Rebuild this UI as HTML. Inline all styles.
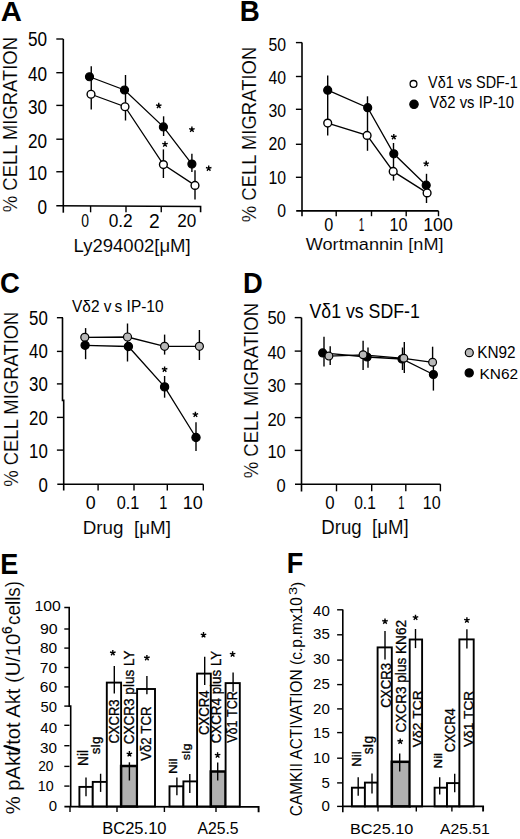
<!DOCTYPE html>
<html><head><meta charset="utf-8"><style>
html,body{margin:0;padding:0;background:#fff;width:520px;height:839px;overflow:hidden}
svg{display:block}
text{font-family:"Liberation Sans", sans-serif;fill:#000}
</style></head><body>
<svg width="520" height="839" viewBox="0 0 520 839">
<text transform="translate(0.67 20.8) scale(1.030 1)" font-size="28.41" font-weight="bold">A</text>
<text transform="translate(16.5 212.15) rotate(-90) scale(0.916 1)" font-size="20.14" stroke="#fff" stroke-width="0.15">% CELL MIGRATION</text>
<line x1="63.3" y1="39" x2="63.3" y2="212.7" stroke="#000" stroke-width="1.6"/>
<line x1="56.3" y1="171.75" x2="63.3" y2="171.75" stroke="#000" stroke-width="1.4"/>
<line x1="56.3" y1="139.2" x2="63.3" y2="139.2" stroke="#000" stroke-width="1.4"/>
<line x1="56.3" y1="105.4" x2="63.3" y2="105.4" stroke="#000" stroke-width="1.4"/>
<line x1="56.3" y1="72.7" x2="63.3" y2="72.7" stroke="#000" stroke-width="1.4"/>
<line x1="56.3" y1="39" x2="63.3" y2="39" stroke="#000" stroke-width="1.4"/>
<polyline points="56.3,205.75 200.6,206.5 200.6,212.3" fill="none" stroke="#000" stroke-width="1.6"/>
<line x1="90.6" y1="206" x2="90.6" y2="212.3" stroke="#000" stroke-width="1.4"/>
<line x1="126" y1="206" x2="126" y2="212.3" stroke="#000" stroke-width="1.4"/>
<line x1="161.25" y1="206" x2="161.25" y2="212.3" stroke="#000" stroke-width="1.4"/>
<text transform="translate(37.57 213.6) scale(0.870 1)" font-size="19.72">0</text>
<text transform="translate(28.04 179.8) scale(0.870 1)" font-size="19.72">10</text>
<text transform="translate(28.04 147.5) scale(0.870 1)" font-size="19.72">20</text>
<text transform="translate(28.04 113.7) scale(0.870 1)" font-size="19.72">30</text>
<text transform="translate(28.04 81.1) scale(0.870 1)" font-size="19.72">40</text>
<text transform="translate(28.04 46) scale(0.870 1)" font-size="19.72">50</text>
<text transform="translate(81.34 227.31) scale(0.731 1)" font-size="19.01">0</text>
<text transform="translate(108.71 227.31) scale(0.910 1)" font-size="19.01">0.2</text>
<text transform="translate(149.04 227.5)" font-size="19.29">2</text>
<text transform="translate(177.24 227.31) scale(0.902 1)" font-size="19.01">20</text>
<text transform="translate(73.52 252.38) scale(1.005 1)" font-size="18.45" stroke="#fff" stroke-width="0.08">Ly294002[μM]</text>
<line x1="91.25" y1="66.25" x2="91.25" y2="109.5" stroke="#000" stroke-width="1.4"/>
<line x1="125.5" y1="75" x2="125.5" y2="120.5" stroke="#000" stroke-width="1.4"/>
<line x1="163.6" y1="116.3" x2="163.6" y2="136" stroke="#000" stroke-width="1.4"/>
<line x1="163.4" y1="149.4" x2="163.4" y2="178" stroke="#000" stroke-width="1.4"/>
<line x1="191.9" y1="153.7" x2="191.9" y2="172" stroke="#000" stroke-width="1.4"/>
<line x1="195" y1="170.2" x2="195" y2="199.6" stroke="#000" stroke-width="1.4"/>
<polyline points="89.5,76.75 124.5,90 163.4,126.9 191.9,164.1" fill="none" stroke="#000" stroke-width="1.3"/>
<polyline points="91,94.25 125,106.75 163.4,164.6 195,185.4" fill="none" stroke="#000" stroke-width="1.3"/>
<circle cx="89.5" cy="76.75" r="4" fill="#000" stroke="#000" stroke-width="1.2"/>
<circle cx="124.5" cy="90" r="4" fill="#000" stroke="#000" stroke-width="1.2"/>
<circle cx="163.4" cy="126.9" r="4" fill="#000" stroke="#000" stroke-width="1.2"/>
<circle cx="191.9" cy="164.1" r="4" fill="#000" stroke="#000" stroke-width="1.2"/>
<circle cx="91" cy="94.25" r="3.9" fill="#fff" stroke="#000" stroke-width="1.4"/>
<circle cx="125" cy="106.75" r="3.9" fill="#fff" stroke="#000" stroke-width="1.4"/>
<circle cx="163.4" cy="164.6" r="3.9" fill="#fff" stroke="#000" stroke-width="1.4"/>
<circle cx="195" cy="185.4" r="3.9" fill="#fff" stroke="#000" stroke-width="1.4"/>
<path d="M158.75 105.75L158.75 102.85M158.75 105.75L161.51 104.85M158.75 105.75L160.45 108.1M158.75 105.75L157.05 108.1M158.75 105.75L155.99 104.85" stroke="#000" stroke-width="1.4" stroke-linecap="butt" fill="none"/>
<path d="M165 144.2L165 141.3M165 144.2L167.76 143.3M165 144.2L166.7 146.55M165 144.2L163.3 146.55M165 144.2L162.24 143.3" stroke="#000" stroke-width="1.4" stroke-linecap="butt" fill="none"/>
<path d="M191.9 129.5L191.9 126.6M191.9 129.5L194.66 128.6M191.9 129.5L193.6 131.85M191.9 129.5L190.2 131.85M191.9 129.5L189.14 128.6" stroke="#000" stroke-width="1.4" stroke-linecap="butt" fill="none"/>
<path d="M208.7 168.4L208.7 165.5M208.7 168.4L211.46 167.5M208.7 168.4L210.4 170.75M208.7 168.4L207 170.75M208.7 168.4L205.94 167.5" stroke="#000" stroke-width="1.4" stroke-linecap="butt" fill="none"/>
<text transform="translate(239.8 20.9) scale(0.961 1)" font-size="28.84" font-weight="bold">B</text>
<text transform="translate(255.6 222.25) rotate(-90) scale(0.924 1)" font-size="20.00" stroke="#fff" stroke-width="0.15">% CELL MIGRATION</text>
<line x1="302" y1="42.6" x2="302" y2="216.2" stroke="#000" stroke-width="1.6"/>
<line x1="295.9" y1="177.3" x2="302" y2="177.3" stroke="#000" stroke-width="1.4"/>
<line x1="295.9" y1="144.3" x2="302" y2="144.3" stroke="#000" stroke-width="1.4"/>
<line x1="295.9" y1="109.3" x2="302" y2="109.3" stroke="#000" stroke-width="1.4"/>
<line x1="295.9" y1="76.5" x2="302" y2="76.5" stroke="#000" stroke-width="1.4"/>
<line x1="295.9" y1="42.6" x2="302" y2="42.6" stroke="#000" stroke-width="1.4"/>
<line x1="296.2" y1="210.9" x2="438.5" y2="210.9" stroke="#000" stroke-width="1.6"/>
<line x1="336.2" y1="210.9" x2="336.2" y2="216.2" stroke="#000" stroke-width="1.4"/>
<line x1="371.5" y1="210.9" x2="371.5" y2="216.2" stroke="#000" stroke-width="1.4"/>
<line x1="406.2" y1="210.9" x2="406.2" y2="216.2" stroke="#000" stroke-width="1.4"/>
<line x1="438.5" y1="210.9" x2="438.5" y2="216.2" stroke="#000" stroke-width="1.4"/>
<text transform="translate(277.26 217.07) scale(0.870 1)" font-size="18.17">0</text>
<text transform="translate(268.49 183.57) scale(0.870 1)" font-size="18.17">10</text>
<text transform="translate(268.49 150.47) scale(0.870 1)" font-size="18.17">20</text>
<text transform="translate(268.49 116.97) scale(0.870 1)" font-size="18.17">30</text>
<text transform="translate(268.49 84.47) scale(0.870 1)" font-size="18.17">40</text>
<text transform="translate(268.49 50.57) scale(0.870 1)" font-size="18.17">50</text>
<text transform="translate(324.35 230.92) scale(0.892 1)" font-size="18.17">0</text>
<text transform="translate(358.85 231.1) scale(0.535 1)" font-size="18.70">1</text>
<text transform="translate(389.59 230.92) scale(0.891 1)" font-size="18.17">10</text>
<text transform="translate(423.27 230.92) scale(0.973 1)" font-size="18.17">100</text>
<text transform="translate(305.71 250.18) scale(1.054 1)" font-size="17.22" stroke="#fff" stroke-width="0.08">Wortmannin [nM]</text>
<line x1="327.7" y1="75.4" x2="327.7" y2="135.4" stroke="#000" stroke-width="1.4"/>
<line x1="367.5" y1="96.3" x2="367.5" y2="150.8" stroke="#000" stroke-width="1.4"/>
<line x1="393.5" y1="143" x2="393.5" y2="180.6" stroke="#000" stroke-width="1.4"/>
<line x1="426.5" y1="173.8" x2="426.5" y2="203" stroke="#000" stroke-width="1.4"/>
<polyline points="327.7,90.2 367.7,107.7 393.8,153.8 426.2,185.2" fill="none" stroke="#000" stroke-width="1.3"/>
<polyline points="327.7,123.1 367.1,135.4 393.2,171.4 427.1,192.9" fill="none" stroke="#000" stroke-width="1.3"/>
<circle cx="327.7" cy="90.2" r="4" fill="#000" stroke="#000" stroke-width="1.2"/>
<circle cx="367.7" cy="107.7" r="4" fill="#000" stroke="#000" stroke-width="1.2"/>
<circle cx="393.8" cy="153.8" r="4" fill="#000" stroke="#000" stroke-width="1.2"/>
<circle cx="426.2" cy="185.2" r="4" fill="#000" stroke="#000" stroke-width="1.2"/>
<circle cx="327.7" cy="123.1" r="3.9" fill="#fff" stroke="#000" stroke-width="1.4"/>
<circle cx="367.1" cy="135.4" r="3.9" fill="#fff" stroke="#000" stroke-width="1.4"/>
<circle cx="393.2" cy="171.4" r="3.9" fill="#fff" stroke="#000" stroke-width="1.4"/>
<circle cx="427.1" cy="192.9" r="3.9" fill="#fff" stroke="#000" stroke-width="1.4"/>
<path d="M393.8 136.9L393.8 134M393.8 136.9L396.56 136M393.8 136.9L395.5 139.25M393.8 136.9L392.1 139.25M393.8 136.9L391.04 136" stroke="#000" stroke-width="1.4" stroke-linecap="butt" fill="none"/>
<path d="M426.2 163.7L426.2 160.8M426.2 163.7L428.96 162.8M426.2 163.7L427.9 166.05M426.2 163.7L424.5 166.05M426.2 163.7L423.44 162.8" stroke="#000" stroke-width="1.4" stroke-linecap="butt" fill="none"/>
<circle cx="413.5" cy="83.9" r="3.4" fill="#fff" stroke="#000" stroke-width="1.3"/>
<circle cx="414" cy="104.3" r="4.2" fill="#000" stroke="#000" stroke-width="1.2"/>
<text transform="translate(428.03 88.1) scale(0.910 1)" font-size="15.84">Vδ1 vs SDF-1</text>
<text transform="translate(429.13 108.3) scale(0.938 1)" font-size="15.84">Vδ2 vs IP-10</text>
<text transform="translate(-0.1 293.1) scale(0.912 1)" font-size="30.14" font-weight="bold">C</text>
<text transform="translate(17.71 486.75) rotate(-90) scale(0.949 1)" font-size="19.44" stroke="#fff" stroke-width="0.15">% CELL MIGRATION</text>
<text transform="translate(72.02 311.6) scale(0.917 1)" font-size="16.86">Vδ2 v s IP-10</text>
<polyline points="62.5,317.7 62.5,400.4 63.7,400.4 63.7,490.4" fill="none" stroke="#000" stroke-width="1.6"/>
<line x1="56.9" y1="450.1" x2="63" y2="450.1" stroke="#000" stroke-width="1.4"/>
<line x1="56.9" y1="417.4" x2="63" y2="417.4" stroke="#000" stroke-width="1.4"/>
<line x1="56.9" y1="383.9" x2="63" y2="383.9" stroke="#000" stroke-width="1.4"/>
<line x1="56.9" y1="351.4" x2="63" y2="351.4" stroke="#000" stroke-width="1.4"/>
<line x1="56.9" y1="317.7" x2="63" y2="317.7" stroke="#000" stroke-width="1.4"/>
<line x1="57.3" y1="484.2" x2="203.3" y2="484.2" stroke="#000" stroke-width="1.6"/>
<line x1="98.1" y1="484.2" x2="98.1" y2="490.4" stroke="#000" stroke-width="1.4"/>
<line x1="134" y1="484.2" x2="134" y2="490.4" stroke="#000" stroke-width="1.4"/>
<line x1="167.3" y1="484.2" x2="167.3" y2="490.4" stroke="#000" stroke-width="1.4"/>
<line x1="203.3" y1="484.2" x2="203.3" y2="490.4" stroke="#000" stroke-width="1.4"/>
<text transform="translate(38.43 492.35) scale(0.860 1)" font-size="19.58">0</text>
<text transform="translate(29.08 457.75) scale(0.860 1)" font-size="19.58">10</text>
<text transform="translate(29.08 424.75) scale(0.860 1)" font-size="19.58">20</text>
<text transform="translate(29.08 391.15) scale(0.860 1)" font-size="19.58">30</text>
<text transform="translate(29.08 358.15) scale(0.860 1)" font-size="19.58">40</text>
<text transform="translate(29.08 324.65) scale(0.860 1)" font-size="19.58">50</text>
<text transform="translate(85.78 508.82) scale(0.993 1)" font-size="18.03">0</text>
<text transform="translate(116.65 508.82) scale(0.905 1)" font-size="18.03">0.1</text>
<text transform="translate(159.3 509) scale(0.790 1)" font-size="18.55">1</text>
<text transform="translate(182.65 508.82)" font-size="18.03">10</text>
<text transform="translate(82.69 534.08) scale(0.984 1)" font-size="19.14" stroke="#fff" stroke-width="0.08">Drug&#160;&#160;[μM]</text>
<line x1="85.6" y1="328.1" x2="85.6" y2="359.2" stroke="#000" stroke-width="1.4"/>
<line x1="127.5" y1="323.5" x2="127.5" y2="361.5" stroke="#000" stroke-width="1.4"/>
<line x1="164.6" y1="334.6" x2="164.6" y2="354.6" stroke="#000" stroke-width="1.4"/>
<line x1="199.4" y1="330" x2="199.4" y2="360" stroke="#000" stroke-width="1.4"/>
<line x1="164.6" y1="376" x2="164.6" y2="397.7" stroke="#000" stroke-width="1.4"/>
<line x1="196" y1="422.3" x2="196" y2="451.1" stroke="#000" stroke-width="1.4"/>
<polyline points="84.8,337.3 127.5,337 164.6,346.3 199.4,346.3" fill="none" stroke="#000" stroke-width="1.3"/>
<polyline points="85.1,345.3 128.4,346.5 164.6,386.9 196,437.5" fill="none" stroke="#000" stroke-width="1.3"/>
<circle cx="84.8" cy="337.3" r="4" fill="#b8b8b8" stroke="#000" stroke-width="1.2"/>
<circle cx="127.5" cy="337" r="4" fill="#b8b8b8" stroke="#000" stroke-width="1.2"/>
<circle cx="164.6" cy="346.3" r="4" fill="#b8b8b8" stroke="#000" stroke-width="1.2"/>
<circle cx="199.4" cy="346.3" r="4" fill="#b8b8b8" stroke="#000" stroke-width="1.2"/>
<circle cx="85.1" cy="345.3" r="4.1" fill="#000" stroke="#000" stroke-width="1.2"/>
<circle cx="128.4" cy="346.5" r="4.1" fill="#000" stroke="#000" stroke-width="1.2"/>
<circle cx="164.6" cy="386.9" r="4.1" fill="#000" stroke="#000" stroke-width="1.2"/>
<circle cx="196" cy="437.5" r="4.1" fill="#000" stroke="#000" stroke-width="1.2"/>
<path d="M164.6 369.4L164.6 366.5M164.6 369.4L167.36 368.5M164.6 369.4L166.3 371.75M164.6 369.4L162.9 371.75M164.6 369.4L161.84 368.5" stroke="#000" stroke-width="1.4" stroke-linecap="butt" fill="none"/>
<path d="M195.4 414.6L195.4 411.7M195.4 414.6L198.16 413.7M195.4 414.6L197.1 416.95M195.4 414.6L193.7 416.95M195.4 414.6L192.64 413.7" stroke="#000" stroke-width="1.4" stroke-linecap="butt" fill="none"/>
<text transform="translate(243.12 293.4) scale(0.929 1)" font-size="29.42" font-weight="bold">D</text>
<text transform="translate(258.4 478.15) rotate(-90) scale(0.916 1)" font-size="20.14" stroke="#fff" stroke-width="0.15">% CELL MIGRATION</text>
<text transform="translate(309.51 317.6) scale(0.917 1)" font-size="19.33">Vδ1 vs SDF-1</text>
<line x1="301.5" y1="317.6" x2="301.5" y2="491.5" stroke="#000" stroke-width="1.6"/>
<line x1="294.7" y1="450.4" x2="301.5" y2="450.4" stroke="#000" stroke-width="1.4"/>
<line x1="294.7" y1="417.6" x2="301.5" y2="417.6" stroke="#000" stroke-width="1.4"/>
<line x1="294.7" y1="383.9" x2="301.5" y2="383.9" stroke="#000" stroke-width="1.4"/>
<line x1="294.7" y1="351.1" x2="301.5" y2="351.1" stroke="#000" stroke-width="1.4"/>
<line x1="294.7" y1="317.6" x2="301.5" y2="317.6" stroke="#000" stroke-width="1.4"/>
<line x1="295" y1="484.2" x2="440.4" y2="484.2" stroke="#000" stroke-width="1.6"/>
<line x1="336.5" y1="484.2" x2="336.5" y2="491.3" stroke="#000" stroke-width="1.4"/>
<line x1="371.7" y1="484.2" x2="371.7" y2="491.3" stroke="#000" stroke-width="1.4"/>
<line x1="405.8" y1="484.2" x2="405.8" y2="491.3" stroke="#000" stroke-width="1.4"/>
<line x1="440.4" y1="484.2" x2="440.4" y2="491.3" stroke="#000" stroke-width="1.4"/>
<text transform="translate(276.58 492.16) scale(0.870 1)" font-size="19.01">0</text>
<text transform="translate(267.4 458.26) scale(0.870 1)" font-size="19.01">10</text>
<text transform="translate(267.4 425.66) scale(0.870 1)" font-size="19.01">20</text>
<text transform="translate(267.4 391.96) scale(0.870 1)" font-size="19.01">30</text>
<text transform="translate(267.4 359.06) scale(0.870 1)" font-size="19.01">40</text>
<text transform="translate(267.4 324.26) scale(0.870 1)" font-size="19.01">50</text>
<text transform="translate(325.13 509.03) scale(0.964 1)" font-size="17.46">0</text>
<text transform="translate(354.18 509.03) scale(0.890 1)" font-size="17.46">0.1</text>
<text transform="translate(398.16 509.2) scale(0.621 1)" font-size="17.97">1</text>
<text transform="translate(422.79 509.03) scale(0.921 1)" font-size="17.46">10</text>
<text transform="translate(321.21 533.92) scale(0.938 1)" font-size="19.89" stroke="#fff" stroke-width="0.08">Drug&#160;&#160;[μM]</text>
<line x1="324" y1="336.7" x2="324" y2="366.4" stroke="#000" stroke-width="1.4"/>
<line x1="330.2" y1="346.2" x2="330.2" y2="365" stroke="#000" stroke-width="1.4"/>
<line x1="363.1" y1="340.8" x2="363.1" y2="369.9" stroke="#000" stroke-width="1.4"/>
<line x1="368" y1="347.5" x2="368" y2="367.7" stroke="#000" stroke-width="1.4"/>
<line x1="404.3" y1="342.1" x2="404.3" y2="373.1" stroke="#000" stroke-width="1.4"/>
<line x1="402.5" y1="347.5" x2="402.5" y2="370" stroke="#000" stroke-width="1.4"/>
<line x1="432.6" y1="346.7" x2="432.6" y2="365" stroke="#000" stroke-width="1.4"/>
<line x1="433.4" y1="362" x2="433.4" y2="390.6" stroke="#000" stroke-width="1.4"/>
<polyline points="328.9,356.1 363.1,354.8 403.8,358.3 432.6,362.3" fill="none" stroke="#000" stroke-width="1.3"/>
<polyline points="322.7,352.9 367.1,357 402,359 433.4,374.5" fill="none" stroke="#000" stroke-width="1.3"/>
<circle cx="322.7" cy="352.9" r="4" fill="#000" stroke="#000" stroke-width="1.2"/>
<circle cx="367.1" cy="357" r="4" fill="#000" stroke="#000" stroke-width="1.2"/>
<circle cx="402" cy="359" r="4" fill="#000" stroke="#000" stroke-width="1.2"/>
<circle cx="433.4" cy="374.5" r="4" fill="#000" stroke="#000" stroke-width="1.2"/>
<circle cx="328.9" cy="356.1" r="3.9" fill="#b8b8b8" stroke="#000" stroke-width="1.2"/>
<circle cx="363.1" cy="354.8" r="3.9" fill="#b8b8b8" stroke="#000" stroke-width="1.2"/>
<circle cx="403.8" cy="358.3" r="3.9" fill="#b8b8b8" stroke="#000" stroke-width="1.2"/>
<circle cx="432.6" cy="362.3" r="3.9" fill="#b8b8b8" stroke="#000" stroke-width="1.2"/>
<circle cx="469.3" cy="352.7" r="4" fill="#b8b8b8" stroke="#000" stroke-width="1.2"/>
<circle cx="469.2" cy="372.9" r="4.1" fill="#000" stroke="#000" stroke-width="1.2"/>
<text transform="translate(477.27 357.74) scale(0.962 1)" font-size="15.92">KN92</text>
<text transform="translate(479.56 379.05) scale(1.006 1)" font-size="15.35">KN62</text>
<text transform="translate(0.24 573.7) scale(0.911 1)" font-size="29.71" font-weight="bold">E</text>
<polyline points="64.3,607.5 69.2,607.5 69.2,706.1 70.7,706.1 70.7,807" fill="none" stroke="#000" stroke-width="1.6"/>
<line x1="64.3" y1="786.1" x2="69.5" y2="786.1" stroke="#000" stroke-width="1.4"/>
<line x1="64.3" y1="766.4" x2="69.5" y2="766.4" stroke="#000" stroke-width="1.4"/>
<line x1="64.3" y1="745.7" x2="69.5" y2="745.7" stroke="#000" stroke-width="1.4"/>
<line x1="64.3" y1="725.3" x2="69.5" y2="725.3" stroke="#000" stroke-width="1.4"/>
<line x1="64.3" y1="706.1" x2="69.5" y2="706.1" stroke="#000" stroke-width="1.4"/>
<line x1="64.3" y1="686.9" x2="69.5" y2="686.9" stroke="#000" stroke-width="1.4"/>
<line x1="64.3" y1="667.5" x2="69.5" y2="667.5" stroke="#000" stroke-width="1.4"/>
<line x1="64.3" y1="648.1" x2="69.5" y2="648.1" stroke="#000" stroke-width="1.4"/>
<line x1="64.3" y1="629" x2="69.5" y2="629" stroke="#000" stroke-width="1.4"/>
<text transform="translate(48.7 810.7) scale(1.030 1)" font-size="14.51">0</text>
<text transform="translate(37.83 790.6) scale(0.984 1)" font-size="14.51">10</text>
<text transform="translate(38.21 771.4) scale(0.946 1)" font-size="14.51">20</text>
<text transform="translate(40.09 752.6) scale(1.051 1)" font-size="14.51">30</text>
<text transform="translate(40.32 732.6) scale(1.036 1)" font-size="14.51">40</text>
<text transform="translate(40.51 712.3) scale(1.024 1)" font-size="14.51">50</text>
<text transform="translate(39.82 692.2) scale(1.075 1)" font-size="14.51">60</text>
<text transform="translate(39.82 672.8) scale(1.075 1)" font-size="14.51">70</text>
<text transform="translate(39.9 653.1) scale(1.069 1)" font-size="14.51">80</text>
<text transform="translate(39.88 634) scale(1.096 1)" font-size="14.51">90</text>
<text transform="translate(34.42 611.25) scale(1.085 1)" font-size="14.51">100</text>
<rect x="79.4" y="786.9" width="13.35" height="19.6" fill="#fff" stroke="#000" stroke-width="1.9"/>
<rect x="92.75" y="781.9" width="14.15" height="24.6" fill="#fff" stroke="#000" stroke-width="1.9"/>
<rect x="106.8" y="682.6" width="14.3" height="123.9" fill="#fff" stroke="#000" stroke-width="1.9"/>
<rect x="121.1" y="766" width="16" height="40.5" fill="#b0b0b0" stroke="#000" stroke-width="2.5"/>
<rect x="137.1" y="689" width="17.9" height="117.5" fill="#fff" stroke="#000" stroke-width="1.9"/>
<rect x="169.5" y="786.3" width="13.9" height="20.2" fill="#fff" stroke="#000" stroke-width="1.9"/>
<rect x="183.4" y="781.4" width="13.7" height="25.1" fill="#fff" stroke="#000" stroke-width="1.9"/>
<rect x="197.1" y="673.6" width="13.7" height="132.9" fill="#fff" stroke="#000" stroke-width="1.9"/>
<rect x="210.8" y="771.5" width="14.8" height="35" fill="#b0b0b0" stroke="#000" stroke-width="2.5"/>
<rect x="225.6" y="683.1" width="14.2" height="123.4" fill="#fff" stroke="#000" stroke-width="1.9"/>
<polyline points="64.4,806.6 258.6,806.9 258.6,812.3" fill="none" stroke="#000" stroke-width="1.9"/>
<line x1="70" y1="806.5" x2="70" y2="812" stroke="#000" stroke-width="1.4"/>
<line x1="117" y1="806.5" x2="117" y2="812" stroke="#000" stroke-width="1.4"/>
<line x1="164.4" y1="806.5" x2="164.4" y2="812" stroke="#000" stroke-width="1.4"/>
<line x1="216" y1="806.5" x2="216" y2="812" stroke="#000" stroke-width="1.4"/>
<line x1="86" y1="777.5" x2="86" y2="796.25" stroke="#000" stroke-width="1.4"/>
<line x1="100.6" y1="773.75" x2="100.6" y2="791.9" stroke="#000" stroke-width="1.4"/>
<line x1="114.3" y1="666" x2="114.3" y2="693.6" stroke="#000" stroke-width="1.4"/>
<line x1="129.4" y1="762.3" x2="129.4" y2="780.5" stroke="#000" stroke-width="1.4"/>
<line x1="146.9" y1="676" x2="146.9" y2="694.3" stroke="#000" stroke-width="1.4"/>
<line x1="176.9" y1="777.6" x2="176.9" y2="795.2" stroke="#000" stroke-width="1.4"/>
<line x1="189.8" y1="774" x2="189.8" y2="793" stroke="#000" stroke-width="1.4"/>
<line x1="204.7" y1="656.7" x2="204.7" y2="685.1" stroke="#000" stroke-width="1.4"/>
<line x1="217.7" y1="762.4" x2="217.7" y2="780.4" stroke="#000" stroke-width="1.4"/>
<line x1="233.1" y1="672.6" x2="233.1" y2="691.8" stroke="#000" stroke-width="1.4"/>
<path d="M112.8 652.9L112.8 650M112.8 652.9L115.56 652M112.8 652.9L114.5 655.25M112.8 652.9L111.1 655.25M112.8 652.9L110.04 652" stroke="#000" stroke-width="1.4" stroke-linecap="butt" fill="none"/>
<path d="M129.4 754L129.4 751.1M129.4 754L132.16 753.1M129.4 754L131.1 756.35M129.4 754L127.7 756.35M129.4 754L126.64 753.1" stroke="#000" stroke-width="1.4" stroke-linecap="butt" fill="none"/>
<path d="M146.9 657.9L146.9 655M146.9 657.9L149.66 657M146.9 657.9L148.6 660.25M146.9 657.9L145.2 660.25M146.9 657.9L144.14 657" stroke="#000" stroke-width="1.4" stroke-linecap="butt" fill="none"/>
<path d="M203.5 635L203.5 632.1M203.5 635L206.26 634.1M203.5 635L205.2 637.35M203.5 635L201.8 637.35M203.5 635L200.74 634.1" stroke="#000" stroke-width="1.4" stroke-linecap="butt" fill="none"/>
<path d="M217.6 755.2L217.6 752.3M217.6 755.2L220.36 754.3M217.6 755.2L219.3 757.55M217.6 755.2L215.9 757.55M217.6 755.2L214.84 754.3" stroke="#000" stroke-width="1.4" stroke-linecap="butt" fill="none"/>
<path d="M232.6 654.2L232.6 651.3M232.6 654.2L235.36 653.3M232.6 654.2L234.3 656.55M232.6 654.2L230.9 656.55M232.6 654.2L229.84 653.3" stroke="#000" stroke-width="1.4" stroke-linecap="butt" fill="none"/>
<text transform="translate(87.8 765.89) rotate(-90) scale(0.950 1)" font-size="14.34" stroke="#000" stroke-width="0.3">Nil</text>
<text transform="translate(99.78 754.3) rotate(-90) scale(0.990 1)" font-size="13.44" stroke="#000" stroke-width="0.3">sIg</text>
<text transform="translate(119.25 743.55) rotate(-90) scale(0.889 1)" font-size="14.65" stroke="#000" stroke-width="0.3">CXCR3</text>
<text transform="translate(134.01 744.28) rotate(-90) scale(0.953 1)" font-size="14.22" stroke="#000" stroke-width="0.3">CXCR3 plus LY</text>
<text transform="translate(150.76 760.87) rotate(-90) scale(0.944 1)" font-size="14.01" stroke="#000" stroke-width="0.3">Vδ2 TCR</text>
<text transform="translate(176.9 774.07) rotate(-90) scale(1.255 1)" font-size="10.62" stroke="#000" stroke-width="0.3">Nil</text>
<text transform="translate(190.45 760.28) rotate(-90) scale(1.231 1)" font-size="10.22" stroke="#000" stroke-width="0.3">sIg</text>
<text transform="translate(208.55 734.96) rotate(-90) scale(0.904 1)" font-size="14.51" stroke="#000" stroke-width="0.3">CXCR4</text>
<text transform="translate(221.21 743.37) rotate(-90) scale(0.941 1)" font-size="14.22" stroke="#000" stroke-width="0.3">CXCR4 plus LY</text>
<text transform="translate(237.45 742.76) rotate(-90) scale(0.853 1)" font-size="14.69" stroke="#000" stroke-width="0.3">Vδ1 TCR</text>
<text transform="translate(102.18 834.23) scale(0.996 1)" font-size="16.62">BC25.10</text>
<text transform="translate(197.42 834.44) scale(0.972 1)" font-size="16.20">A25.5</text>
<text transform="translate(286.64 573.4) scale(0.911 1)" font-size="29.71" font-weight="bold">F</text>
<line x1="342.8" y1="609.4" x2="342.8" y2="812.3" stroke="#000" stroke-width="1.6"/>
<line x1="337.1" y1="782.9" x2="342.8" y2="782.9" stroke="#000" stroke-width="1.4"/>
<line x1="337.1" y1="758.2" x2="342.8" y2="758.2" stroke="#000" stroke-width="1.4"/>
<line x1="337.1" y1="732.6" x2="342.8" y2="732.6" stroke="#000" stroke-width="1.4"/>
<line x1="337.1" y1="708.9" x2="342.8" y2="708.9" stroke="#000" stroke-width="1.4"/>
<line x1="337.1" y1="684.6" x2="342.8" y2="684.6" stroke="#000" stroke-width="1.4"/>
<line x1="337.1" y1="660.1" x2="342.8" y2="660.1" stroke="#000" stroke-width="1.4"/>
<line x1="337.1" y1="634.8" x2="342.8" y2="634.8" stroke="#000" stroke-width="1.4"/>
<line x1="337.1" y1="609.8" x2="342.8" y2="609.8" stroke="#000" stroke-width="1.4"/>
<line x1="337.1" y1="806.4" x2="342.8" y2="806.4" stroke="#000" stroke-width="1.4"/>
<text transform="translate(321.43 810.9) scale(1.020 1)" font-size="14.79">0</text>
<text transform="translate(321.43 787.53) scale(1.020 1)" font-size="14.79">5</text>
<text transform="translate(313.06 763.1) scale(1.020 1)" font-size="14.79">10</text>
<text transform="translate(313.06 737.93) scale(1.020 1)" font-size="14.79">15</text>
<text transform="translate(313.06 713.6) scale(1.020 1)" font-size="14.79">20</text>
<text transform="translate(313.06 689.4) scale(1.020 1)" font-size="14.79">25</text>
<text transform="translate(313.06 664) scale(1.020 1)" font-size="14.79">30</text>
<text transform="translate(313.06 639.1) scale(1.020 1)" font-size="14.79">35</text>
<text transform="translate(313.06 615.5) scale(1.020 1)" font-size="14.79">40</text>
<rect x="351.9" y="787.7" width="13" height="18.7" fill="#fff" stroke="#000" stroke-width="1.9"/>
<rect x="364.9" y="782.6" width="12.7" height="23.8" fill="#fff" stroke="#000" stroke-width="1.9"/>
<rect x="377.6" y="647.4" width="14.2" height="159" fill="#fff" stroke="#000" stroke-width="1.9"/>
<rect x="391.8" y="761.8" width="17.9" height="44.6" fill="#b0b0b0" stroke="#000" stroke-width="2.5"/>
<rect x="409.7" y="639.5" width="12.4" height="166.9" fill="#fff" stroke="#000" stroke-width="1.9"/>
<rect x="434.6" y="787.7" width="12.4" height="18.7" fill="#fff" stroke="#000" stroke-width="1.9"/>
<rect x="447" y="783.1" width="12.4" height="23.3" fill="#fff" stroke="#000" stroke-width="1.9"/>
<rect x="459.4" y="639.4" width="14.3" height="167" fill="#fff" stroke="#000" stroke-width="1.9"/>
<polyline points="342.8,806.4 483.1,806.4 483.1,811.5" fill="none" stroke="#000" stroke-width="1.9"/>
<line x1="378" y1="806.4" x2="378" y2="811.5" stroke="#000" stroke-width="1.4"/>
<line x1="416.3" y1="806.4" x2="416.3" y2="811.5" stroke="#000" stroke-width="1.4"/>
<line x1="451.9" y1="806.4" x2="451.9" y2="811.5" stroke="#000" stroke-width="1.4"/>
<line x1="358.2" y1="777.3" x2="358.2" y2="795.8" stroke="#000" stroke-width="1.4"/>
<line x1="372" y1="773.4" x2="372" y2="793.5" stroke="#000" stroke-width="1.4"/>
<line x1="385" y1="631" x2="385" y2="659.5" stroke="#000" stroke-width="1.4"/>
<line x1="399.7" y1="753.5" x2="399.7" y2="771.5" stroke="#000" stroke-width="1.4"/>
<line x1="415.5" y1="629" x2="415.5" y2="648.1" stroke="#000" stroke-width="1.4"/>
<line x1="439.7" y1="777.3" x2="439.7" y2="794.6" stroke="#000" stroke-width="1.4"/>
<line x1="454.7" y1="773.8" x2="454.7" y2="792.3" stroke="#000" stroke-width="1.4"/>
<line x1="466.9" y1="629.2" x2="466.9" y2="648.5" stroke="#000" stroke-width="1.4"/>
<path d="M385 621.4L385 618.5M385 621.4L387.76 620.5M385 621.4L386.7 623.75M385 621.4L383.3 623.75M385 621.4L382.24 620.5" stroke="#000" stroke-width="1.4" stroke-linecap="butt" fill="none"/>
<path d="M400.2 741.4L400.2 738.5M400.2 741.4L402.96 740.5M400.2 741.4L401.9 743.75M400.2 741.4L398.5 743.75M400.2 741.4L397.44 740.5" stroke="#000" stroke-width="1.4" stroke-linecap="butt" fill="none"/>
<path d="M415.5 617.6L415.5 614.7M415.5 617.6L418.26 616.7M415.5 617.6L417.2 619.95M415.5 617.6L413.8 619.95M415.5 617.6L412.74 616.7" stroke="#000" stroke-width="1.4" stroke-linecap="butt" fill="none"/>
<path d="M466.9 620.2L466.9 617.3M466.9 620.2L469.66 619.3M466.9 620.2L468.6 622.55M466.9 620.2L465.2 622.55M466.9 620.2L464.14 619.3" stroke="#000" stroke-width="1.4" stroke-linecap="butt" fill="none"/>
<text transform="translate(361.2 766.86) rotate(-90) scale(0.989 1)" font-size="13.38" stroke="#000" stroke-width="0.3">Nil</text>
<text transform="translate(373.46 754.21) rotate(-90) scale(0.974 1)" font-size="14.00" stroke="#000" stroke-width="0.3">sIg</text>
<text transform="translate(390.55 707.76) rotate(-90) scale(0.899 1)" font-size="14.79" stroke="#000" stroke-width="0.3">CXCR3</text>
<text transform="translate(405.97 732.58) rotate(-90) scale(0.943 1)" font-size="14.44" stroke="#000" stroke-width="0.3">CXCR3 plus KN62</text>
<text transform="translate(421.97 747.17) rotate(-90) scale(1.069 1)" font-size="12.93" stroke="#000" stroke-width="0.3">Vδ2 TCR</text>
<text transform="translate(442 768.47) rotate(-90) scale(1.289 1)" font-size="10.34" stroke="#000" stroke-width="0.3">Nil</text>
<text transform="translate(455.46 752.15) rotate(-90) scale(0.941 1)" font-size="13.80" stroke="#000" stroke-width="0.3">CXCR4</text>
<text transform="translate(472.87 747.07) rotate(-90) scale(1.058 1)" font-size="12.93" stroke="#000" stroke-width="0.3">Vδ1 TCR</text>
<text transform="translate(350 834.45) scale(1.051 1)" font-size="15.49">BC25.10</text>
<text transform="translate(440.02 834.45) scale(1.015 1)" font-size="15.49">A25.51</text>
<text transform="translate(20 814.31) rotate(-90) scale(0.956 1)" font-size="21.13" stroke="#fff" stroke-width="0.1">% pAkt/tot Akt (U/10</text>
<text transform="translate(20 625.05) rotate(-90) scale(0.896 1)" font-size="21.13" stroke="#fff" stroke-width="0.1">cells)</text>
<line x1="3.6" y1="745.9" x2="19.6" y2="751" stroke="#000" stroke-width="2.0"/>
<text transform="translate(11.96 634) rotate(-90) scale(1.008 1)" font-size="13.80" stroke="#000" stroke-width="0.15">6</text>
<text transform="translate(302.2 816.27) rotate(-90) scale(0.993 1)" font-size="15.57">CAMKII ACTIVATION (c.p.mx10</text>
<text transform="translate(297.39 595) rotate(-90) scale(1.305 1)" font-size="11.41">3</text>
<text transform="translate(301.76 586.95) rotate(-90) scale(1.027 1)" font-size="14.97">)</text>
</svg>
</body></html>
